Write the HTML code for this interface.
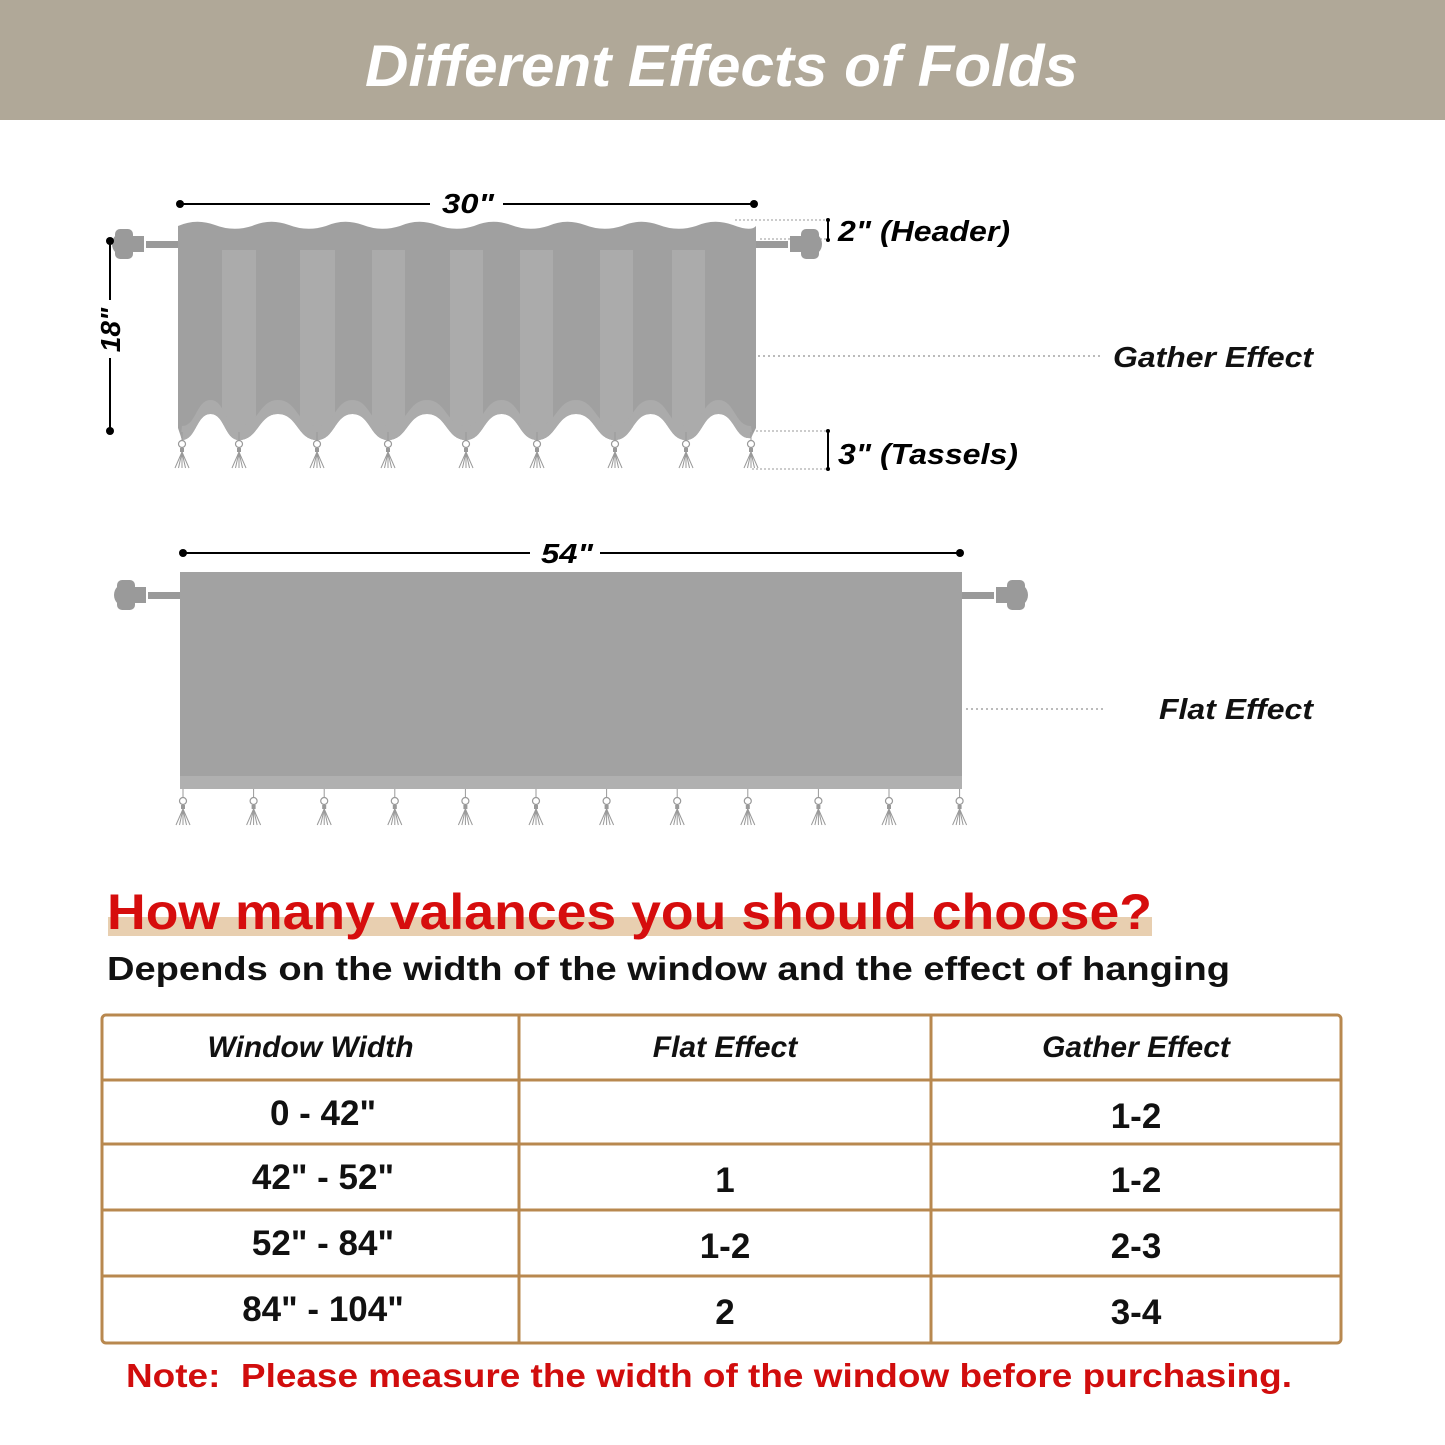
<!DOCTYPE html>
<html><head><meta charset="utf-8">
<style>
html,body{margin:0;padding:0;background:#fff;}
svg{display:block;}
text{font-family:"Liberation Sans",sans-serif;}
</style></head>
<body>
<svg id="s" width="1445" height="1445" viewBox="0 0 1445 1445" xmlns="http://www.w3.org/2000/svg">
<rect x="0" y="0" width="1445" height="120" fill="#b0a898"/>
<text x="365" y="86" textLength="713" lengthAdjust="spacingAndGlyphs" font-size="58" font-weight="bold" font-style="italic" fill="#fff">Different Effects of Folds</text>

<g id="gather"></g>
<g id="flat"></g>

<g>
<line x1="180" y1="204" x2="430" y2="204" stroke="#000" stroke-width="2"/>
<line x1="503" y1="204" x2="754" y2="204" stroke="#000" stroke-width="2"/>
<circle cx="180" cy="204" r="4"/><circle cx="754" cy="204" r="4"/>
<text x="442" y="213" textLength="52" lengthAdjust="spacingAndGlyphs" font-size="28" font-weight="bold" font-style="italic">30"</text>
</g>
<g>
<line x1="110" y1="241" x2="110" y2="300" stroke="#000" stroke-width="2"/>
<line x1="110" y1="358" x2="110" y2="431" stroke="#000" stroke-width="2"/>
<circle cx="110" cy="241" r="4"/><circle cx="110" cy="431" r="4"/>
<text transform="translate(120,330) rotate(-90)" text-anchor="middle" font-size="28" font-weight="bold" font-style="italic">18"</text>
</g>
<g>
<line x1="735" y1="220" x2="828" y2="220" stroke="#999" stroke-dasharray="2,2"/>
<line x1="760" y1="239" x2="828" y2="239" stroke="#999" stroke-dasharray="2,2"/>
<line x1="828" y1="220" x2="828" y2="240" stroke="#000" stroke-width="2"/>
<circle cx="828" cy="220" r="2"/><circle cx="828" cy="240" r="2"/>
<text x="838" y="241" textLength="172" lengthAdjust="spacingAndGlyphs" font-size="29" font-weight="bold" font-style="italic">2" (Header)</text>
</g>
<g>
<line x1="752" y1="431" x2="828" y2="431" stroke="#999" stroke-dasharray="2,2"/>
<line x1="752" y1="469" x2="828" y2="469" stroke="#999" stroke-dasharray="2,2"/>
<line x1="828" y1="431" x2="828" y2="469" stroke="#000" stroke-width="2"/>
<circle cx="828" cy="431" r="2"/><circle cx="828" cy="469" r="2"/>
<text x="838" y="464" textLength="180" lengthAdjust="spacingAndGlyphs" font-size="29" font-weight="bold" font-style="italic">3" (Tassels)</text>
</g>
<line x1="758" y1="356" x2="1103" y2="356" stroke="#777" stroke-dasharray="2,3"/>
<text x="1113" y="367" textLength="200" lengthAdjust="spacingAndGlyphs" font-size="29" font-weight="bold" font-style="italic" fill="#111">Gather Effect</text>

<g>
<line x1="183" y1="553" x2="530" y2="553" stroke="#000" stroke-width="2"/>
<line x1="600" y1="553" x2="960" y2="553" stroke="#000" stroke-width="2"/>
<circle cx="183" cy="553" r="4"/><circle cx="960" cy="553" r="4"/>
<text x="541" y="563" textLength="52" lengthAdjust="spacingAndGlyphs" font-size="28" font-weight="bold" font-style="italic">54"</text>
</g>
<line x1="966" y1="709" x2="1103" y2="709" stroke="#777" stroke-dasharray="2,3"/>
<text x="1159" y="719" textLength="154" lengthAdjust="spacingAndGlyphs" font-size="29" font-weight="bold" font-style="italic" fill="#111">Flat Effect</text>

<rect x="108" y="917" width="1044" height="19" fill="#e8cfb0"/>
<text x="107" y="929" textLength="1045" lengthAdjust="spacingAndGlyphs" font-size="50" font-weight="bold" fill="#d60d0d">How many valances you should choose?</text>
<text x="107" y="980" textLength="1123" lengthAdjust="spacingAndGlyphs" font-size="33" font-weight="bold" fill="#111">Depends on the width of the window and the effect of hanging</text>

<g id="table"></g>

<text x="126" y="1387" textLength="1166" lengthAdjust="spacingAndGlyphs" font-size="33" font-weight="bold" fill="#d10d0d" xml:space="preserve">Note:  Please measure the width of the window before purchasing.</text>
</svg>
<script>
const NS="http://www.w3.org/2000/svg";
const gTassels=[182,239,317,388,466,537,615,686,751];
const gStripes=[[222,256],[300,335],[372,405],[450,483],[520,553],[600,633],[672,705]];
const headers=["Window Width","Flat Effect","Gather Effect"];
const col1=['0 - 42"','42" - 52"','52" - 84"','84" - 104"'];
const col2=['','1','1-2','2'];
const col3=['1-2','1-2','2-3','3-4'];
function mk(tag,attrs,parent){const e=document.createElementNS(NS,tag);for(const k in attrs)e.setAttribute(k,attrs[k]);parent.appendChild(e);return e;}
function tassel(g,x,y0){
  mk('line',{x1:x,y1:y0,x2:x,y2:y0+8,stroke:'#999','stroke-width':1},g);
  mk('circle',{cx:x,cy:y0+12,r:3.5,fill:'none',stroke:'#999','stroke-width':1.2},g);
  mk('rect',{x:x-2,y:y0+16,width:4,height:4,fill:'#999'},g);
  for(let d=-7;d<=7;d+=3.5) mk('line',{x1:x,y1:y0+20,x2:x+d,y2:y0+36,stroke:'#999','stroke-width':1},g);
}
function rod(g,x,y,dir){
  mk('rect',{x:dir<0?x-32:x,y:y-3,width:32,height:7,fill:'#9a9a9a'},g);
  const cx=x+dir*40;
  mk('rect',{x:cx-6,y:y-8,width:12,height:16,fill:'#9a9a9a'},g);
  mk('circle',{cx:cx+dir*14,cy:y,r:12,fill:'#9a9a9a'},g);
  mk('rect',{x:cx+dir*14-9,y:y-15,width:18,height:30,rx:5,fill:'#9a9a9a'},g);
}
function wave(pts,yLow,yHigh){
  let d='';
  for(let i=pts.length-1;i>0;i--){const a=pts[i],b=pts[i-1],m=(a+b)/2,k=(a-b)*0.25;
    d+=` C${a-k},${yLow} ${m+k},${yHigh} ${m},${yHigh} C${m-k},${yHigh} ${b+k},${yLow} ${b},${yLow}`;}
  return d;
}
(function(){
const G=document.getElementById('gather');
rod(G,178,244,-1);rod(G,756,244,1);
let topPath='M178,226';
for(let x=178;x<756;x+=74){topPath+=` Q${x+18},218 ${x+37},225 Q${x+55},232 ${Math.min(x+74,756)},226`;}
let bot=`L756,428 L751,438`+wave(gTassels,440,414)+' L178,428 Z';
const gp=mk('path',{d:topPath+' '+bot,fill:'#a0a0a0'},G);

const clip=mk('clipPath',{id:'gc'},G);mk('path',{d:topPath+' '+bot},clip);
const sg=mk('g',{'clip-path':'url(#gc)'},G);
gStripes.forEach(s=>{mk('rect',{x:s[0],y:250,width:s[1]-s[0],height:200,fill:'#ababab'},sg);});
mk('path',{d:'M751,426'+wave(gTassels,426,400)+' L178,460 L756,460 Z',fill:'#ababab'},sg);
gTassels.forEach(x=>tassel(G,x,432));
const F=document.getElementById('flat');
rod(F,180,595,-1);rod(F,962,595,1);
const fr=mk('rect',{x:180,y:572,width:782,height:205,fill:'#a2a2a2'},F);

mk('rect',{x:180,y:776,width:782,height:13,fill:'#b0b0b0'},F);
for(let i=0;i<12;i++) tassel(F,183+i*70.6,789);
const T=document.getElementById('table');
const xs=[102,519,931,1341], ys=[1015,1080,1144,1210,1276,1343];
const bc='#b8884f';
mk('rect',{x:102,y:1015,width:1239,height:328,rx:4,fill:'none',stroke:bc,'stroke-width':3},T);
ys.slice(1,-1).forEach(y=>mk('line',{x1:102,y1:y,x2:1341,y2:y,stroke:bc,'stroke-width':3},T));
xs.slice(1,-1).forEach(x=>mk('line',{x1:x,y1:1015,x2:x,y2:1343,stroke:bc,'stroke-width':3},T));
headers.forEach((h,i)=>{const t=mk('text',{x:(xs[i]+xs[i+1])/2,y:1057,'text-anchor':'middle','font-size':30,'font-weight':'bold','font-style':'italic',fill:'#111'},T);t.textContent=h;
});
const cols=[col1,col2,col3];
cols.forEach((c,ci)=>c.forEach((v,ri)=>{const off=ci===0?0:3;const cx=ci===0?323:(xs[ci]+xs[ci+1])/2;const t=mk('text',{x:cx,y:ys[ri+1]+45+off,'text-anchor':'middle','font-size':35,'font-weight':'bold',fill:'#111'},T);t.textContent=v;
}));
})();
</script>
</body></html>
